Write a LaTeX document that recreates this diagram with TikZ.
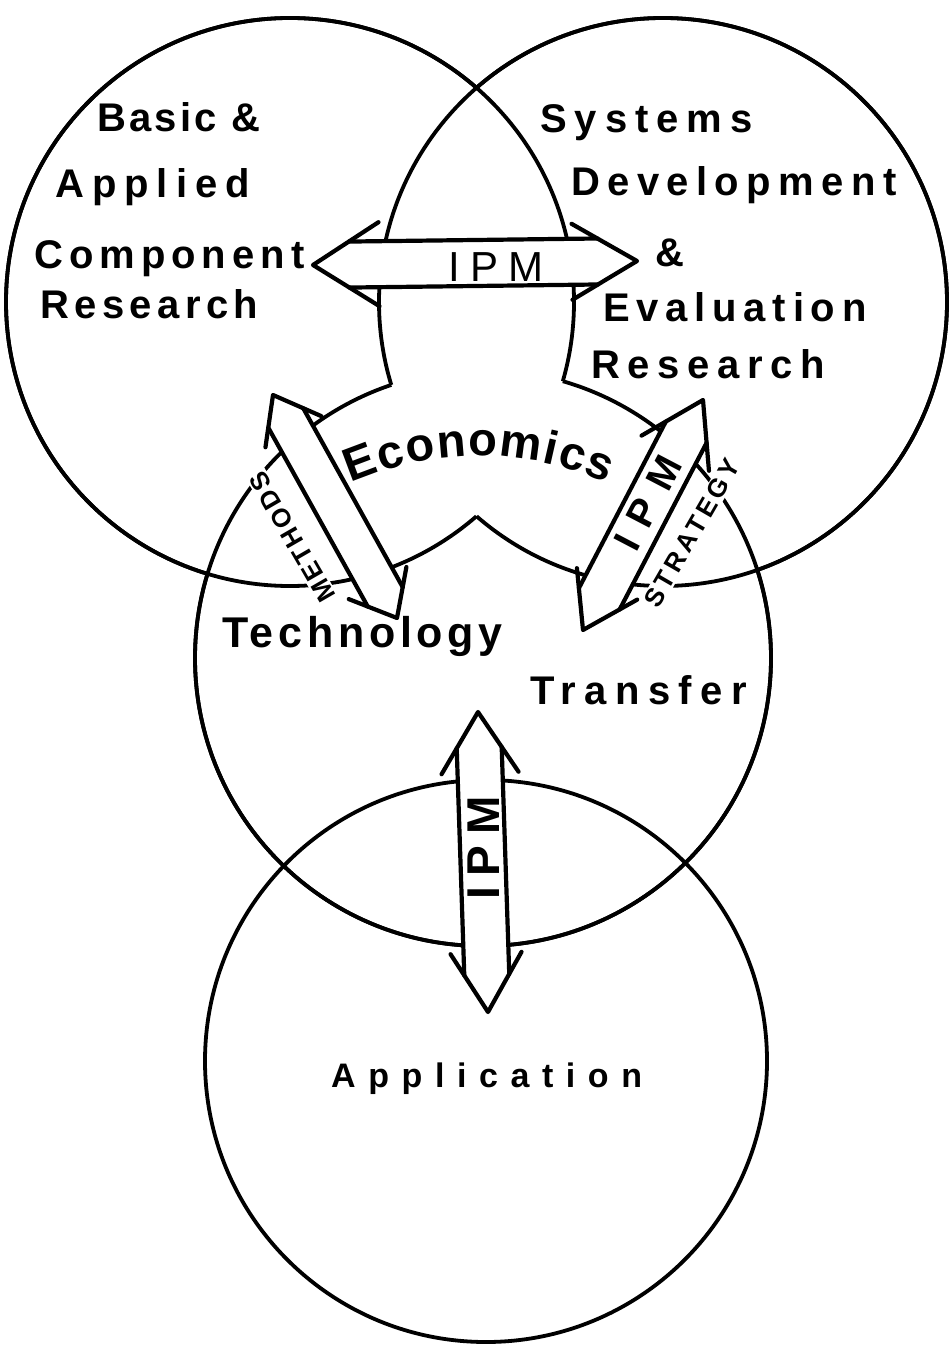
\documentclass[tikz,border=0pt]{standalone}
\usepackage{fontspec}
\setmainfont{Liberation Sans}
\usetikzlibrary{calc,decorations.text}
\newcommand{\lsp}[1]{\addfontfeature{LetterSpace=#1}}
% double-headed fat arrow: tipA, tipB, shaft half width, head length A, barb half width A, head length B, barb half width B
\newcommand{\fatarrow}[7]{%
  \pgfmathsetmacro\faCA{#4*#3/#5}%
  \pgfmathsetmacro\faCB{#6*#3/#7}%
  \coordinate (fa-a) at #1;
  \coordinate (fa-b) at #2;
  \coordinate (fa-a1) at ($(fa-a)!#4pt!(fa-b)!#5pt!90:(fa-b)$);
  \coordinate (fa-a2) at ($(fa-a)!#4pt!(fa-b)!#5pt!-90:(fa-b)$);
  \coordinate (fa-b1) at ($(fa-b)!#6pt!(fa-a)!#7pt!-90:(fa-a)$);
  \coordinate (fa-b2) at ($(fa-b)!#6pt!(fa-a)!#7pt!90:(fa-a)$);
  \coordinate (fa-a1s) at ($(fa-a)!\faCA pt!(fa-b)!#3pt!90:(fa-b)$);
  \coordinate (fa-a2s) at ($(fa-a)!\faCA pt!(fa-b)!#3pt!-90:(fa-b)$);
  \coordinate (fa-b1s) at ($(fa-b)!\faCB pt!(fa-a)!#3pt!-90:(fa-a)$);
  \coordinate (fa-b2s) at ($(fa-b)!\faCB pt!(fa-a)!#3pt!90:(fa-a)$);
  \fill[white] (fa-a) -- (fa-a1) -- (fa-a1s) -- (fa-b1s) -- (fa-b1) -- (fa-b) -- (fa-b2) -- (fa-b2s) -- (fa-a2s) -- (fa-a2) -- cycle;
  \draw[arrowline] (fa-a1) -- (fa-a) -- (fa-a2);
  \draw[arrowline] (fa-b1) -- (fa-b) -- (fa-b2);
  \draw[arrowline] (fa-a1s) -- (fa-b1s);
  \draw[arrowline] (fa-a2s) -- (fa-b2s);
}
\begin{document}
\begin{tikzpicture}[x=1pt,y=-1pt,
  circ/.style={line width=3.8pt},
  arrowline/.style={line width=4.2pt, line join=round, line cap=round},
  lbl/.style={font=\fontsize{40}{40}\selectfont\bfseries, inner sep=0pt, anchor=base west},
  small/.style={font=\fontsize{26}{26}\selectfont\bfseries, inner sep=1.5pt, fill=white},
  ipm/.style={inner sep=0pt}
]
\useasboundingbox (0,0) rectangle (951,1348);
\fill[white] (0,0) rectangle (951,1348);
\coordinate (c1) at (290,302);
\coordinate (c2) at (663,302);
\coordinate (c3) at (483,658);
\coordinate (c4) at (486,1061);
% circles, without the arcs lying inside the triple overlap
\begin{scope}[even odd rule]
  \clip (-50,-50) rectangle (1000,1400) (c1) circle[radius=284];
  \draw[circ] (c2) circle[radius=284];
  \draw[circ] (c3) circle[radius=288];
\end{scope}
\begin{scope}[even odd rule]
  \clip (-50,-50) rectangle (1000,1400) (c2) circle[radius=284];
  \draw[circ] (c1) circle[radius=284];
  \draw[circ] (c3) circle[radius=288];
\end{scope}
\begin{scope}[even odd rule]
  \clip (-50,-50) rectangle (1000,1400) (c3) circle[radius=288];
  \draw[circ] (c1) circle[radius=284];
  \draw[circ] (c2) circle[radius=284];
\end{scope}
\draw[circ] (c4) circle[radius=281];
% arrows
\fatarrow{(313,265)}{(637,261)}{23}{66}{42}{65}{38}
\fatarrow{(273,395)}{(397,618)}{20}{42}{32}{40}{33}
\fatarrow{(703,400)}{(583,630)}{23}{60}{38}{52}{34}
\fatarrow{(478,712)}{(488,1012)}{22.5}{61}{38.5}{59}{35.5}
% labels
\node[lbl] (basic) at (97,132) {\lsp{8}Basic \&};
\node[lbl] (applied) at (55,198) {\lsp{20}Applied};
\node[lbl] (component) at (34,269) {\lsp{15}Component};
\node[lbl] (researchL) at (40,318) {\lsp{13.5}Research};
\node[lbl] (systems) at (540,133) {\lsp{20}Systems};
\node[lbl] (development) at (571,196) {\lsp{18.5}Development};
\node[lbl] (amp) at (655,266) {\&};
\node[lbl] (evaluation) at (603,321) {\lsp{17}Evaluation};
\node[lbl] (researchR) at (591,378) {\lsp{19}Research};
\node[lbl, font=\fontsize{43}{43}\selectfont\bfseries] (technology) at (222,647) {\lsp{11}Technology};
\node[lbl] (transfer) at (530,704) {\lsp{21}Transfer};
\node[lbl, font=\fontsize{34}{34}\selectfont\bfseries] (application) at (331,1087) {\lsp{37}Application};
% IPM labels
\node[ipm, anchor=base, font=\fontsize{42}{42}\selectfont] (ipmH) at (496,281) {\lsp{24}IPM};
\node[ipm, rotate=62.4, font=\fontsize{39}{39}\selectfont\bfseries] (ipmS) at (648,503) {\lsp{40}IPM};
\node[ipm, rotate=90, font=\fontsize{46}{46}\selectfont\bfseries] (ipmV) at (484,848) {\lsp{24}IPM};
% small rotated labels
\node[small, rotate=120] (methods) at (292,537) {\lsp{10}METHODS};
\node[small, rotate=60] (strategy) at (692,533) {\lsp{15}STRATEGY};
% Economics along an arch
\path[decorate, decoration={text along path, text align={fit to path},
  text={|\fontsize{47}{47}\selectfont\bfseries|Economics}}]
  (351,483) .. controls (436,447) and (522,447) .. (607,483);
\end{tikzpicture}
\end{document}
